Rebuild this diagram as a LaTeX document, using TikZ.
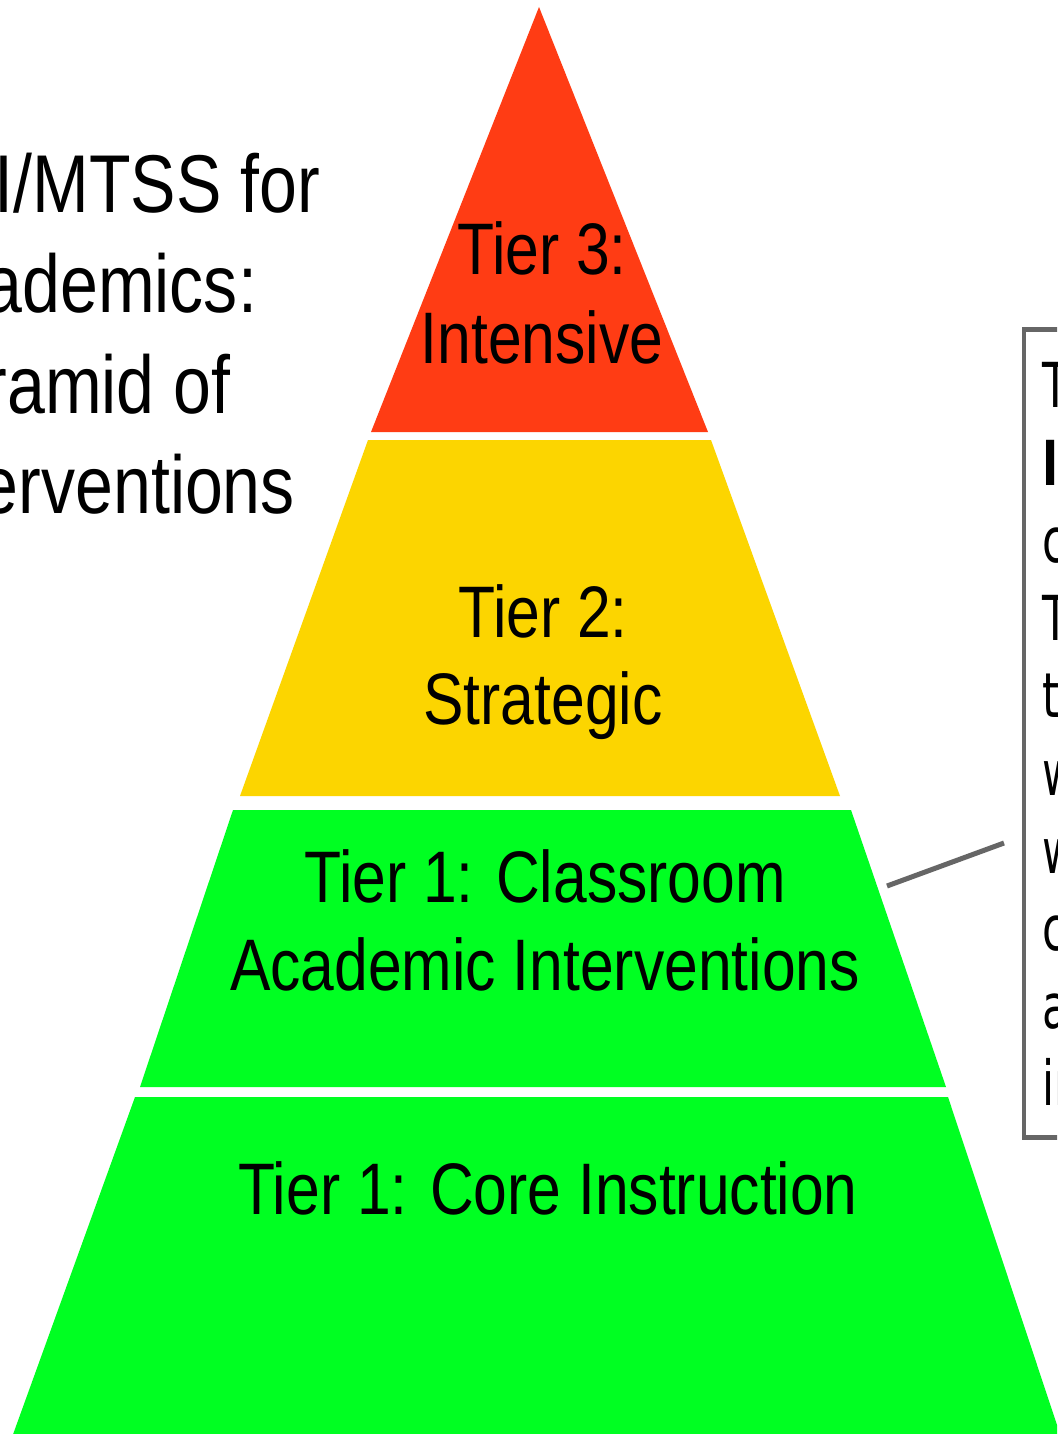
\documentclass[tikz,border=0pt]{standalone}
\usepackage{fontspec}
\newfontfamily\narrowfont{Liberation Sans}[FakeStretch=0.83]
\newfontfamily\notefont{DejaVu Sans}[FakeStretch=0.7]
\definecolor{tierred}{HTML}{FF3C14}
\definecolor{tieryellow}{HTML}{FCD500}
\definecolor{tiergreen}{HTML}{00FF22}
\definecolor{linegray}{HTML}{666666}
\begin{document}
\begin{tikzpicture}[x=1pt,y=-1pt,
  tiertext/.style={anchor=base, inner sep=0pt, font=\narrowfont\fontsize{73}{89}\selectfont},
  titletext/.style={anchor=base west, inner sep=0pt, font=\narrowfont\fontsize{82}{100}\selectfont},
  notetext/.style={anchor=base west, inner sep=0pt, font=\notefont\fontsize{62}{78}\selectfont},
  notebox/.style={draw=linegray, line width=4.5pt, fill=white, inner sep=0pt, anchor=north west},
  leader/.style={draw=linegray, line width=5pt}
]
\useasboundingbox (0,0) rectangle (1057,1434);
\clip (0,0) rectangle (1057,1434);
\fill[white] (0,0) rectangle (1057,1434);

% pyramid layers
\fill[tierred] (539,7) -- (708,432) -- (371,432) -- cycle;
\fill[tieryellow] (368,440) -- (711,440) -- (840,796) -- (240,796) -- cycle;
\fill[tiergreen] (233,810) -- (851,810) -- (946,1087) -- (140,1087) -- cycle;
\fill[tiergreen] (135,1097) -- (948,1097) -- (1062,1440) -- (11,1440) -- cycle;

% tier labels
\node[tiertext] (t3a) at (542,274) {Tier 3:};
\node[tiertext] (t3b) at (542,363) {Intensive};
\node[tiertext] (t2a) at (543,637) {Tier 2:};
\node[tiertext] (t2b) at (543,724) {Strategic};
\node[tiertext] (t1a) at (545,902) {Tier 1: Classroom};
\node[tiertext] (t1b) at (545,990) {Academic Interventions};
\node[tiertext] (t0a) at (548,1214) {Tier 1: Core Instruction};

% title
\node[titletext] (ti1) at (-95,212) {RTI/MTSS for};
\node[titletext] (ti2) at (-95,312) {Academics:};
\node[titletext] (ti3) at (-95,413) {Pyramid of};
\node[titletext] (ti4) at (-95,513) {Interventions};

% note box
\node[notebox, minimum width=80pt, minimum height=808pt] (note) at (1021.5,327) {};
\node[notetext] (n1) at (1042,407) {T};
\node[notetext] (n2) at (1042,485) {\bfseries I};
\node[notetext] (n3) at (1042,562) {c};
\node[notetext] (n4) at (1042,640) {T};
\node[notetext] (n5) at (1042,717) {t};
\node[notetext] (n6) at (1042,795) {w};
\node[notetext] (n7) at (1042,873) {w};
\node[notetext] (n8) at (1042,950) {c};
\node[notetext] (n9) at (1042,1028) {a};
\node[notetext] (n10) at (1042,1105) {in};

% leader line
\coordinate (la) at (887,886);
\coordinate (lb) at (1004,843);
\draw[leader] (la) -- (lb);
\end{tikzpicture}
\end{document}
